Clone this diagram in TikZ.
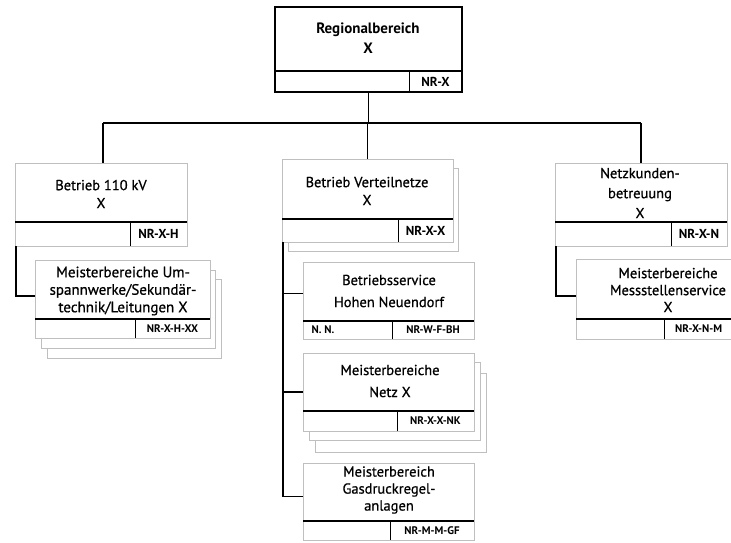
\documentclass[tikz,border=0pt]{standalone}
\usepackage{fontspec}
\setmainfont{PT Sans}
\newfontface\medfont{PT Sans}[FakeBold=0.7]
\begin{document}
\begin{tikzpicture}[x=1pt,y=-1pt,
  frame/.style={draw=gray!50, line width=0.7pt, fill=white, anchor=north west, inner sep=0pt, outer sep=0pt},
  stackframe/.style={draw=gray!50, line width=0.7pt, fill=white},
  topframe/.style={draw=black, line width=1.6pt, fill=white, anchor=north west, inner sep=0pt, outer sep=0pt},
  divider/.style={draw=black, line width=1.4pt},
  cellline/.style={draw=black, line width=1pt},
  conn/.style={draw=black, line width=1.4pt},
  mainline/.style={draw=black, line width=2.2pt},
  title/.style={align=center, inner sep=0pt},
  code/.style={font=\bfseries\fontsize{13}{15}\selectfont, inner sep=0pt},
  smallcode/.style={font=\bfseries\fontsize{11}{13}\selectfont, inner sep=0pt},
]
\useasboundingbox (0,0) rectangle (731,543);
\clip (0,0) rectangle (731,543);
\fill[white] (0,0) rectangle (731,543);

% top box
\node[topframe, minimum width=187pt, minimum height=85pt] (rb) at (275,7) {};
\draw[divider] (275,71) -- (462,71);
\draw[cellline] (409,71) -- (409,92);
\node[title, font=\bfseries\fontsize{15}{20}\selectfont] (rbt) at (368,38) {Regionalbereich\\X};
\node[code] (rbc) at (435.5,81.5) {NR-X};

% left box
\node[frame, minimum width=172pt, minimum height=83pt] (lb) at (15,163) {};
\draw[divider] (15,222) -- (187,222);
\draw[cellline] (130,222) -- (130,246);
\node[title, font=\medfont\fontsize{14.5}{18}\selectfont] (lbt) at (101,194) {Betrieb 110 kV\\X};
\node[code] (lbc) at (158.5,234) {NR-X-H};

% middle box
\draw[stackframe] (288,168) rectangle (458,251);
\node[frame, minimum width=171pt, minimum height=83pt] (mb) at (282,159) {};
\draw[divider] (282,219) -- (453,219);
\draw[cellline] (398,219) -- (398,242);
\node[title, font=\medfont\fontsize{14.5}{18}\selectfont] (mbt) at (367,191) {Betrieb Verteilnetze\\X};
\node[code] (mbc) at (425.5,230.5) {NR-X-X};

% right box
\node[frame, minimum width=172pt, minimum height=83pt] (nb) at (555,163) {};
\draw[divider] (555,222) -- (727,222);
\draw[cellline] (671,222) -- (671,246);
\node[title, font=\medfont\fontsize{14.5}{20}\selectfont] (nbt) at (640,193) {Netzkunden-\\betreuung\\X};
\node[code] (nbc) at (699,234) {NR-X-N};

% left sub box
\draw[stackframe] (47,279) rectangle (221,358);
\draw[stackframe] (41,270) rectangle (215,348);
\node[frame, minimum width=175pt, minimum height=78pt] (ls) at (35,260) {};
\draw[divider] (35,319) -- (210,319);
\draw[cellline] (135,319) -- (135,338);
\node[title, font=\medfont\fontsize{15}{17.5}\selectfont] (lst) at (123,291) {Meisterbereiche Um-\\spannwerke/Sekundär-\\technik/Leitungen X};
\node[smallcode] (lsc) at (172.5,328.5) {NR-X-H-XX};

% right sub box
\node[frame, minimum width=184pt, minimum height=80pt] (rs) at (576,259) {};
\draw[divider] (576,319) -- (760,319);
\draw[cellline] (664,319) -- (664,339);
\node[title, font=\medfont\fontsize{14.5}{17}\selectfont] (rst) at (668,290) {Meisterbereiche\\Messstellenservice\\X};
\node[smallcode, anchor=west] (rsc) at (675,329) {NR-X-N-M};

% Betriebsservice
\node[frame, minimum width=171pt, minimum height=77pt] (bs) at (303,262) {};
\draw[divider] (303,321) -- (474,321);
\draw[cellline] (392,321) -- (392,339);
\node[title, font=\medfont\fontsize{14.5}{22}\selectfont] (bst) at (389,291) {Betriebsservice\\Hohen Neuendorf};
\node[smallcode] (bsn) at (323,330) {N. N.};
\node[smallcode] (bsc) at (433,330) {NR-W-F-BH};

% Netz X
\draw[stackframe] (315,373) rectangle (486,452);
\draw[stackframe] (309,362) rectangle (480,440);
\node[frame, minimum width=171pt, minimum height=78pt] (nx) at (303,353) {};
\draw[divider] (303,411) -- (474,411);
\draw[cellline] (397,411) -- (397,431);
\node[title, font=\medfont\fontsize{14.5}{22}\selectfont] (nxt) at (390,381) {Meisterbereiche\\Netz X};
\node[smallcode] (nxc) at (435.5,421) {NR-X-X-NK};

% Gasdruck
\node[frame, minimum width=171pt, minimum height=77pt] (gd) at (303,463) {};
\draw[divider] (303,521) -- (474,521);
\draw[cellline] (390,521) -- (390,540);
\node[title, font=\medfont\fontsize{14.5}{17}\selectfont] (gdt) at (389,490) {Meisterbereich\\Gasdruckregel-\\anlagen};
\node[smallcode] (gdc) at (432,531) {NR-M-M-GF};

% connectors
\coordinate (hl) at ([xshift=2pt]lb.north |- 0,123);
\coordinate (hr) at (nb.north |- 0,123);
\draw[conn] (rb.south) -- (rb.south |- hl);
\draw[mainline] (hl) -- (hr);
\draw[conn] (hl) -- (hl |- lb.north);
\draw[conn] (mb.north |- hl) -- (mb.north);
\draw[conn] (hr) -- (nb.north);
\draw[conn] ([xshift=1pt]lb.south west) |- ([yshift=3pt]ls.west);
\draw[conn] ([xshift=1pt]nb.south west) |- ([yshift=3pt]rs.west);
\coordinate (mtrunk) at ([xshift=1pt]mb.south west);
\draw[conn] (mtrunk) |- ([yshift=5pt]gd.west);
\draw[conn] (mtrunk |- bs.west) ++(0,-7) -- ([yshift=7pt]bs.west);
\draw[conn] (mtrunk |- nx.west) -- (nx.west);
\end{tikzpicture}
\end{document}
